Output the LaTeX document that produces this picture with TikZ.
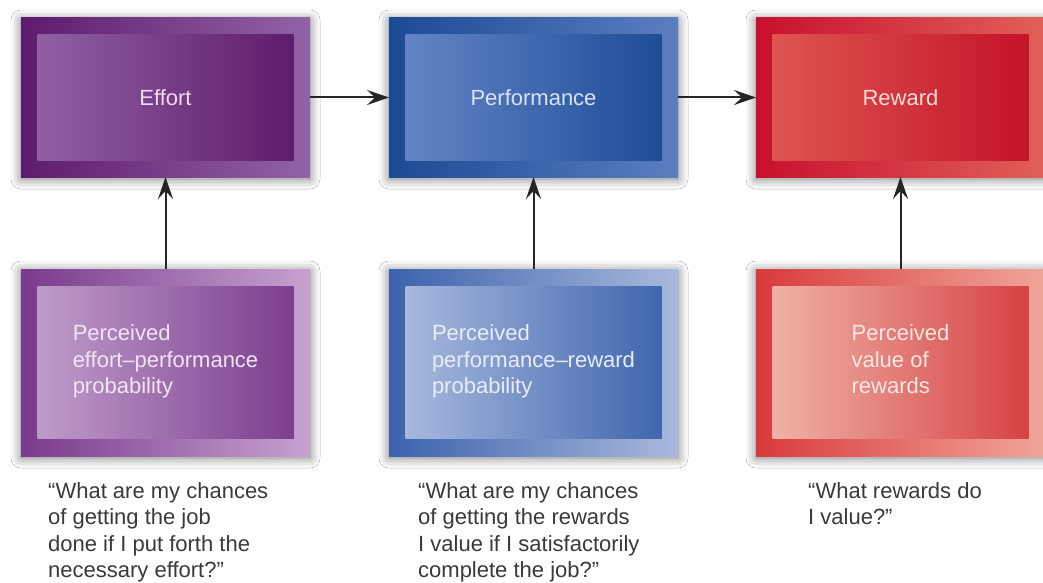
\documentclass[tikz,border=0pt]{standalone}
\usepackage{fontspec}
\setmainfont{Liberation Sans}
\usetikzlibrary{arrows.meta,shadows.blur}
\definecolor{pTo}{HTML}{5E1B6E}\definecolor{pTo2}{HTML}{9262A6}
\definecolor{pTi}{HTML}{9060A2}\definecolor{pTi2}{HTML}{5E1C6C}
\definecolor{pBo}{HTML}{7A3A8C}\definecolor{pBo2}{HTML}{C6A2D0}
\definecolor{pBi}{HTML}{BE9CCA}\definecolor{pBi2}{HTML}{7C3E8E}
\definecolor{bTo}{HTML}{1B4A94}\definecolor{bTo2}{HTML}{5B7EC0}
\definecolor{bTi}{HTML}{6384C4}\definecolor{bTi2}{HTML}{1E4D98}
\definecolor{bBo}{HTML}{3B62AC}\definecolor{bBo2}{HTML}{A9B9DC}
\definecolor{bBi}{HTML}{A7B8DD}\definecolor{bBi2}{HTML}{4066AE}
\definecolor{rTo}{HTML}{C8102E}\definecolor{rTo2}{HTML}{E06058}
\definecolor{rTi}{HTML}{DD5550}\definecolor{rTi2}{HTML}{C41428}
\definecolor{rBo}{HTML}{D83A3C}\definecolor{rBo2}{HTML}{F0A698}
\definecolor{rBi}{HTML}{EFB2A6}\definecolor{rBi2}{HTML}{D64244}
\definecolor{txtP}{HTML}{F2D8F0}\definecolor{txtB}{HTML}{D8E4F6}
\definecolor{txtR}{HTML}{F8DCD8}\definecolor{txtPb}{HTML}{F3E4F4}
\definecolor{txtBb}{HTML}{E8EEF9}\definecolor{txtRb}{HTML}{FCE8E2}
\definecolor{qtxt}{HTML}{3A3A3A}
\begin{document}
\begin{tikzpicture}[x=1pt,y=-1pt,
  outerbox/.style={draw=none, minimum width=289pt, inner sep=0pt, outer sep=0pt,
     blur shadow={shadow blur radius=10pt, shadow xshift=0pt, shadow yshift=-2pt, shadow opacity=55, shadow blur extra rounding=0pt}},
  topo/.style={outerbox, minimum height=159pt},
  boto/.style={outerbox, minimum height=187pt},
  innerbox/.style={draw=none, minimum width=256pt, inner sep=0pt, outer sep=0pt,
     font=\fontsize{22}{26.5}\selectfont, align=left},
  topi/.style={innerbox, minimum height=125pt},
  boti/.style={innerbox, minimum height=152pt},
  quote/.style={anchor=north west, inner sep=0pt, align=left, text=qtxt,
     font=\fontsize{22}{26.5}\selectfont},
  arr/.style={line width=2pt, draw=black!85, -{Stealth[length=22pt,width=15pt,inset=8pt]}}
]
\useasboundingbox (0,0) rectangle (1043,583);
\fill[white] (0,0) rectangle (1043,583);
% top row
\node[topo, left color=pTo, right color=pTo2] (effort) at (165.5,97.5) {};
\node[topi, left color=pTi, right color=pTi2, text=txtP] (efforti) at (165.5,97.5) {Effort};
\node[topo, left color=bTo, right color=bTo2] (perf) at (533.5,97.5) {};
\node[topi, left color=bTi, right color=bTi2, text=txtB] (perfi) at (533.5,97.5) {Performance};
\node[topo, left color=rTo, right color=rTo2] (reward) at (900.5,97.5) {};
\node[topi, left color=rTi, right color=rTi2, text=txtR] (rewardi) at (900.5,97.5) {Reward};
% bottom row
\node[boto, left color=pBo, right color=pBo2] (ep) at (165.5,362.5) {};
\node[boti, left color=pBi, right color=pBi2, text=txtPb] (epi) at (165.5,362) {\strut Perceived\\effort--performance\\probability\strut};
\node[boto, left color=bBo, right color=bBo2] (pr) at (533.5,362.5) {};
\node[boti, left color=bBi, right color=bBi2, text=txtBb] (pri) at (533.5,362) {\strut Perceived\\performance--reward\\probability\strut};
\node[boto, left color=rBo, right color=rBo2] (vr) at (900.5,362.5) {};
\node[boti, left color=rBi, right color=rBi2, text=txtRb] (vri) at (900.5,362) {\strut Perceived\\value of\\rewards\strut};
% arrows
\draw[arr] (effort) -- (perf);
\draw[arr] (perf) -- (reward);
\draw[arr] (ep) -- (effort);
\draw[arr] (pr) -- (perf);
\draw[arr] (vr) -- (reward);
% quotes
\node[quote] (q1) at (48,482) {“What are my chances\\of getting the job\\done if I put forth the\\necessary effort?”};
\node[quote] (q2) at (418,482) {“What are my chances\\of getting the rewards\\I value if I satisfactorily\\complete the job?”};
\node[quote] (q3) at (808,482) {“What rewards do\\I value?”};
\end{tikzpicture}
\end{document}
